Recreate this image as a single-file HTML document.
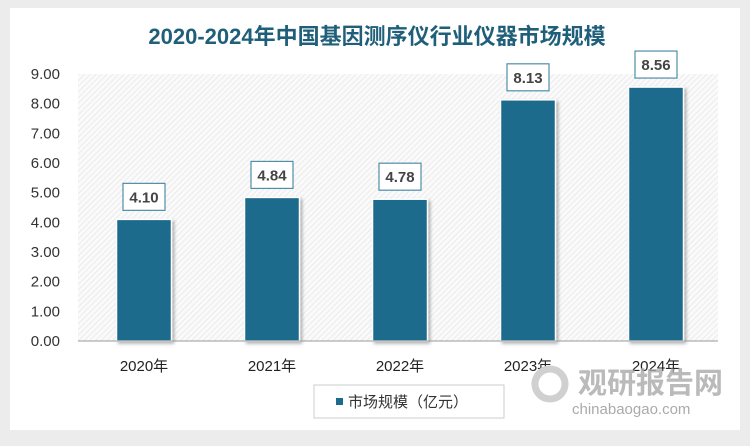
<!DOCTYPE html>
<html><head><meta charset="utf-8"><style>
body{margin:0;width:750px;height:441px;background:#ececec;overflow:hidden;font-family:"Liberation Sans","Noto Sans CJK SC",sans-serif}
</style></head><body>
<svg width="750" height="441">
<defs>
<pattern id="hatch" width="4" height="4" patternUnits="userSpaceOnUse" patternTransform="rotate(45)">
<rect width="4" height="4" fill="#fafafa"/><line x1="0" y1="0" x2="0" y2="4" stroke="#e2e2e2" stroke-width="1.2"/>
</pattern>
<filter id="sh" x="-20%" y="-20%" width="140%" height="140%"><feDropShadow dx="2" dy="2" stdDeviation="1.5" flood-opacity="0.3"/></filter>
</defs>
<rect x="10" y="8" width="730" height="422" fill="#fff"/>
<text x="377" y="44" text-anchor="middle" font-size="22" font-weight="bold" fill="#1f5f7a">2020-2024年中国基因测序仪行业仪器市场规模</text>
<rect x="78" y="74" width="640" height="267" fill="url(#hatch)"/>
<g id="yaxis"></g><g id="bars"></g>
<line x1="78" y1="341" x2="718" y2="341" stroke="#999"/>
<g>
<rect x="314" y="385" width="190" height="33" fill="#fff" stroke="#ccc"/>
<rect x="336" y="398" width="7" height="7" fill="#1d6a8c"/>
<text x="348" y="407" font-size="15" fill="#333">市场规模（亿元）</text>
</g>
<g>
<circle cx="550" cy="384" r="15" fill="none" stroke="#d0d0d0" stroke-width="7"/>
<text x="578" y="393" font-size="29" font-weight="bold" fill="#aaa" opacity="0.8">观研报告网</text>
<text x="572" y="414" font-size="15" fill="#aaa">chinabaogao.com</text>
</g>
</svg>
<script>
const categories=["2020年","2021年","2022年","2023年","2024年"];
const values=[4.10,4.84,4.78,8.13,8.56];
const yTicks=[0,1,2,3,4,5,6,7,8,9];
const NS="http://www.w3.org/2000/svg";
const x0=80,w=640,y0=341,h=267,yMax=9;
const step=w/categories.length;
const xc=i=>x0+step*(i+0.5);
const ys=v=>y0-v/yMax*h;
function mk(t,a,p){const e=document.createElementNS(NS,t);for(const k in a)e.setAttribute(k,a[k]);p.appendChild(e);return e;}
const ya=document.getElementById('yaxis'),bg=document.getElementById('bars');
yTicks.forEach(t=>{const e=mk('text',{x:60,y:ys(t)+5,'text-anchor':'end','font-size':15,fill:'#333'},ya);e.textContent=t.toFixed(2);

});
categories.forEach((c,i)=>{
const bw=55,v=values[i];
const r=mk('rect',{x:xc(i)-bw/2,y:ys(v),width:bw,height:y0-ys(v),fill:'#1d6a8c',stroke:'#fff','stroke-width':1.5,filter:'url(#sh)'},bg);


const by=ys(v)-36;
const b=mk('rect',{x:xc(i)-21,y:by,width:42,height:27,fill:'#fff',stroke:'#4f8ea8','stroke-width':1.2},bg);


const t=mk('text',{x:xc(i),y:by+19,'text-anchor':'middle','font-size':15,'font-weight':'bold',fill:'#444'},bg);t.textContent=v.toFixed(2);


const xl=mk('text',{x:xc(i),y:371,'text-anchor':'middle','font-size':15,fill:'#222'},bg);xl.textContent=c;


});
</script>
</body></html>
